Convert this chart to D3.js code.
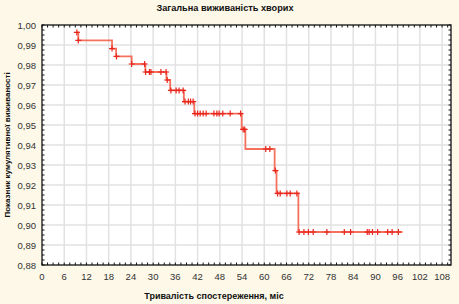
<!DOCTYPE html>
<html>
<head>
<meta charset="utf-8">
<script src="https://cdn.jsdelivr.net/npm/d3@7"></script>
<style>
  body { margin: 0; background: #fdf8e8; }
  svg { display: block; }
</style>
</head>
<body>
<script>
// Kaplan-Meier: drop times (months) and survival level after each drop
var dropTimes = [9.4, 9.8, 18.9, 20.0, 24.2, 27.9, 33.6, 34.6, 38.3, 41.1, 53.9, 54.9, 62.8, 63.3, 69.2];
var survival  = [0.9963, 0.9923, 0.9882, 0.9843, 0.9805, 0.9765, 0.9725, 0.9673, 0.9617, 0.9557, 0.9478, 0.9380, 0.9272, 0.9158, 0.8965];
var lastTime = 97.3;

// "+" marks (censored / observations)
var markTimes = [9.4, 9.8, 18.9, 20.1, 24.2, 27.7, 27.95, 29.0, 29.4, 32.1, 33.5, 33.8,
  34.8, 36.2, 37.0, 38.1, 38.6, 39.5, 40.1, 40.8,
  41.3, 42.0, 42.7, 43.5, 44.3, 46.4, 47.2, 47.8, 48.8, 50.8, 53.6,
  54.3, 54.7, 60.4, 61.5, 63.0, 63.6, 64.3, 66.1, 67.0, 68.8,
  69.4, 70.7, 71.9, 73.2, 76.9, 81.6, 83.3, 87.8, 88.3, 89.2, 90.6, 93.3, 94.5, 96.2];

var xTicks = d3.range(0, 109, 6);
var yTicks = d3.range(0, 13).map(function(i) { return +(0.88 + i * 0.01).toFixed(2); });

var title = "Загальна виживаність хворих";
var xTitle = "Тривалість спостереження, міс";
var yTitle = "Показник кумулятивної виживаності";

var W = 459, H = 304;
var pLeft = 42, pRight = 451, pTop = 25, pBottom = 265;

var svg = d3.select("body").append("svg")
	.attr("width", W)
	.attr("height", H)
	.style("font-family", "'Liberation Sans', Arial, sans-serif");

svg.append("rect").attr("width", W).attr("height", H).attr("fill", "#fdf8e8");

var x = d3.scaleLinear().domain([0, 110.4]).range([pLeft, pRight]);
var y = d3.scaleLinear().domain([0.88, 1.0]).range([pBottom, pTop]);

svg.append("rect")
	.attr("x", pLeft).attr("y", pTop)
	.attr("width", pRight - pLeft).attr("height", pBottom - pTop)
	.attr("fill", "#fff");

// grid
svg.append("g").selectAll("line")
	.data(xTicks.slice(1))
	.enter().append("line")
	.attr("x1", function(d) { return x(d); }).attr("x2", function(d) { return x(d); })
	.attr("y1", pTop).attr("y2", pBottom)
	.attr("stroke", "#e2e2e2").attr("stroke-width", 1.5);

svg.append("g").selectAll("line")
	.data(yTicks.slice(1, -1))
	.enter().append("line")
	.attr("y1", function(d) { return y(d); }).attr("y2", function(d) { return y(d); })
	.attr("x1", pLeft).attr("x2", pRight)
	.attr("stroke", "#e2e2e2").attr("stroke-width", 1.5);

// minor ticks along the frame
var minorX = d3.range(0, 110.4, 1.5);
var minorY = d3.range(0, 49).map(function(i) { return 0.88 + i * 0.0025; });
var ticksG = svg.append("g").attr("stroke", "#111").attr("stroke-width", 1);
minorX.forEach(function(t) {
	ticksG.append("line").attr("x1", x(t)).attr("x2", x(t)).attr("y1", pTop).attr("y2", pTop + 2.5);
	ticksG.append("line").attr("x1", x(t)).attr("x2", x(t)).attr("y1", pBottom).attr("y2", pBottom - 2.5);
});
minorY.forEach(function(v) {
	ticksG.append("line").attr("y1", y(v)).attr("y2", y(v)).attr("x1", pLeft).attr("x2", pLeft + 2.5);
	ticksG.append("line").attr("y1", y(v)).attr("y2", y(v)).attr("x1", pRight).attr("x2", pRight - 2.5);
});

svg.append("rect")
	.attr("x", pLeft).attr("y", pTop)
	.attr("width", pRight - pLeft).attr("height", pBottom - pTop)
	.attr("fill", "none").attr("stroke", "#111").attr("stroke-width", 1.3);

// tick labels
svg.append("g").selectAll("text")
	.data(xTicks)
	.enter().append("text")
	.attr("x", function(d) { return x(d); })
	.attr("y", 280)
	.attr("text-anchor", "middle")
	.attr("font-size", 9.5)
	.attr("fill", "#333")
	.text(function(d) { return d; });

svg.append("g").selectAll("text")
	.data(yTicks)
	.enter().append("text")
	.attr("x", 36)
	.attr("y", function(d) { return y(d) + 3.5; })
	.attr("text-anchor", "end")
	.attr("font-size", 9.5)
	.attr("fill", "#333")
	.text(function(d) { return d.toFixed(2).replace(".", ","); });

// titles
svg.append("text")
	.attr("x", 225).attr("y", 11)
	.attr("text-anchor", "middle")
	.attr("font-size", 9.2).attr("font-weight", "bold").attr("fill", "#111")
	.text(title);

svg.append("text")
	.attr("x", 214).attr("y", 299)
	.attr("text-anchor", "middle")
	.attr("font-size", 9).attr("font-weight", "bold").attr("fill", "#111")
	.text(xTitle);

svg.append("text")
	.attr("transform", "translate(10," + ((pTop + pBottom) / 2) + ") rotate(-90)")
	.attr("text-anchor", "middle")
	.attr("font-size", 8).attr("font-weight", "bold").attr("fill", "#111")
	.text(yTitle);

// survival curve
var pts = dropTimes.map(function(t, i) { return [t, survival[i]]; });
pts.push([lastTime, survival[survival.length - 1]]);

var line = d3.line()
	.x(function(d) { return x(d[0]); })
	.y(function(d) { return y(d[1]); })
	.curve(d3.curveStepAfter);

svg.append("path")
	.attr("d", line(pts))
	.attr("fill", "none")
	.attr("stroke", "#f4624c")
	.attr("stroke-opacity", 0.9)
	.attr("stroke-width", 1.8);

function levelAt(t) {
	var s = survival[0];
	for (var i = 0; i < dropTimes.length; i++) {
		if (dropTimes[i] <= t) s = survival[i];
	}
	return s;
}

svg.append("g").selectAll("path")
	.data(markTimes)
	.enter().append("path")
	.attr("transform", function(d) { return "translate(" + x(d) + "," + y(levelAt(d)) + ")"; })
	.attr("d", "M-3,0H3M0,-3V3")
	.attr("stroke", "#e8261c")
	.attr("stroke-width", 1.2)
	.attr("fill", "none");
</script>
</body>
</html>
